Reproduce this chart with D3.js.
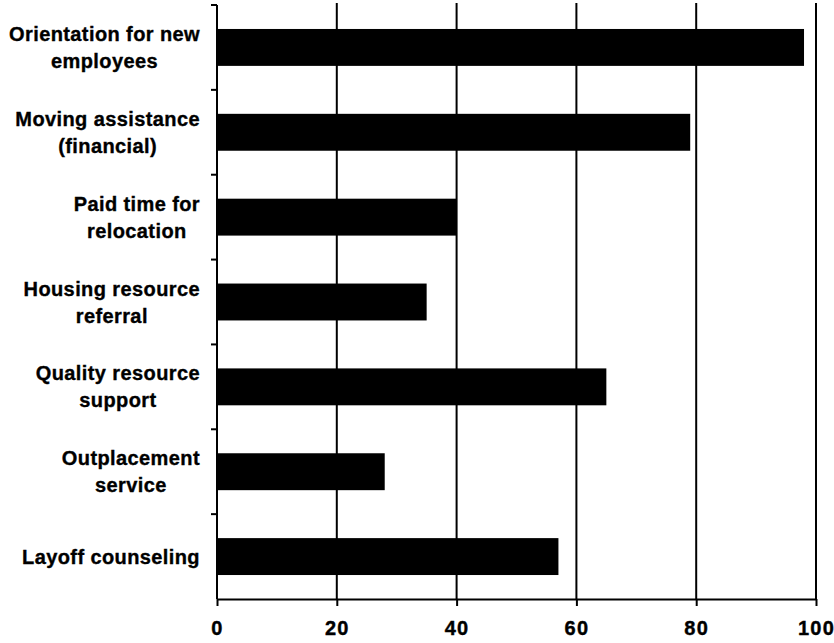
<!DOCTYPE html>
<html>
<head>
<meta charset="utf-8">
<script src="https://cdn.jsdelivr.net/npm/d3@7/dist/d3.min.js"></script>
<style>
  html, body { margin: 0; padding: 0; background: #fff; }
  svg { display: block; }
  text { font-family: "Liberation Sans", Arial, sans-serif; font-weight: bold; fill: #000; }
</style>
</head>
<body>
<svg id="chart" width="834" height="643"></svg>
<script>
// Benefit categories, each split into its display lines
const categories = [
  ["Orientation for new", "employees"],
  ["Moving assistance", "(financial)"],
  ["Paid time for", "relocation"],
  ["Housing resource", "referral"],
  ["Quality resource", "support"],
  ["Outplacement", "service"],
  ["Layoff counseling"]
];
const values = [98, 79, 40, 35, 65, 28, 57];
const xTicks = [0, 20, 40, 60, 80, 100];

const svg = d3.select("#chart");
const margin = { left: 217, top: 5, right: 18, bottom: 44 };
const W = 834, H = 643;
const iw = W - margin.left - margin.right;
const ih = H - margin.top - margin.bottom;

const keys = categories.map(c => c.join(" "));
const x = d3.scaleLinear().domain([0, 100]).range([0, iw]);
const y = d3.scaleBand().domain(keys).range([0, ih]).paddingInner(0.565).paddingOuter(0.2825);

const g = svg.append("g").attr("transform", `translate(${margin.left},${margin.top})`);

// Vertical grid lines at each tick past zero
g.selectAll("line.grid")
  .data(xTicks.filter(t => t > 0))
  .join("line")
  .attr("class", "grid")
  .attr("x1", d => x(d)).attr("x2", d => x(d))
  .attr("y1", -2).attr("y2", ih)
  .attr("stroke", "#000").attr("stroke-width", 2);

// Bars
g.selectAll("rect.bar")
  .data(values)
  .join("rect")
  .attr("class", "bar")
  .attr("x", 0)
  .attr("y", (d, i) => y(keys[i]))
  .attr("width", d => x(d))
  .attr("height", y.bandwidth())
  .attr("fill", "#000");

// Bottom axis
const xAxis = g.append("g")
  .attr("transform", `translate(0,${ih})`)
  .call(d3.axisBottom(x).tickValues(xTicks).tickSize(7).tickPadding(15).tickSizeOuter(0));
xAxis.select(".domain").attr("stroke", "#000").attr("stroke-width", 2.2);
xAxis.selectAll(".tick line").attr("stroke", "#000").attr("stroke-width", 2);
xAxis.selectAll(".tick text")
  .style("font-family", "'Liberation Sans', Arial, sans-serif")
  .style("font-weight", "bold")
  .style("font-size", "20px")
  .style("letter-spacing", "1.2px")
  .attr("stroke", "#000").attr("stroke-width", 0.4)
  .attr("fill", "#000");

// Left axis line with ticks at band boundaries
const boundaries = d3.range(keys.length).map(i => i * ih / keys.length);
g.append("line")
  .attr("x1", 0).attr("x2", 0).attr("y1", 0).attr("y2", ih)
  .attr("stroke", "#000").attr("stroke-width", 2);
g.selectAll("line.ytick")
  .data(boundaries)
  .join("line")
  .attr("class", "ytick")
  .attr("x1", -6).attr("x2", 0)
  .attr("y1", d => d).attr("y2", d => d)
  .attr("stroke", "#000").attr("stroke-width", 2);

// Category labels: centred multi-line blocks, right-aligned to the axis
const labelRight = -17;
const lineGap = 27;
categories.forEach((lines, i) => {
  const cy = y(keys[i]) + y.bandwidth() / 2;
  const t = g.append("text")
    .attr("text-anchor", "middle")
    .attr("stroke", "#000").attr("stroke-width", 0.35)
    .style("font-size", "20px")
    .style("letter-spacing", "0.4px");
  const n = lines.length;
  const spans = lines.map((ln, j) =>
    t.append("tspan")
      .attr("y", cy + (j - (n - 1) / 2) * lineGap)
      .attr("dy", "0.35em")
      .text(ln));
  const wmax = d3.max(spans, s => s.node().getComputedTextLength());
  spans.forEach(s => s.attr("x", labelRight - wmax / 2));
});
</script>
</body>
</html>
